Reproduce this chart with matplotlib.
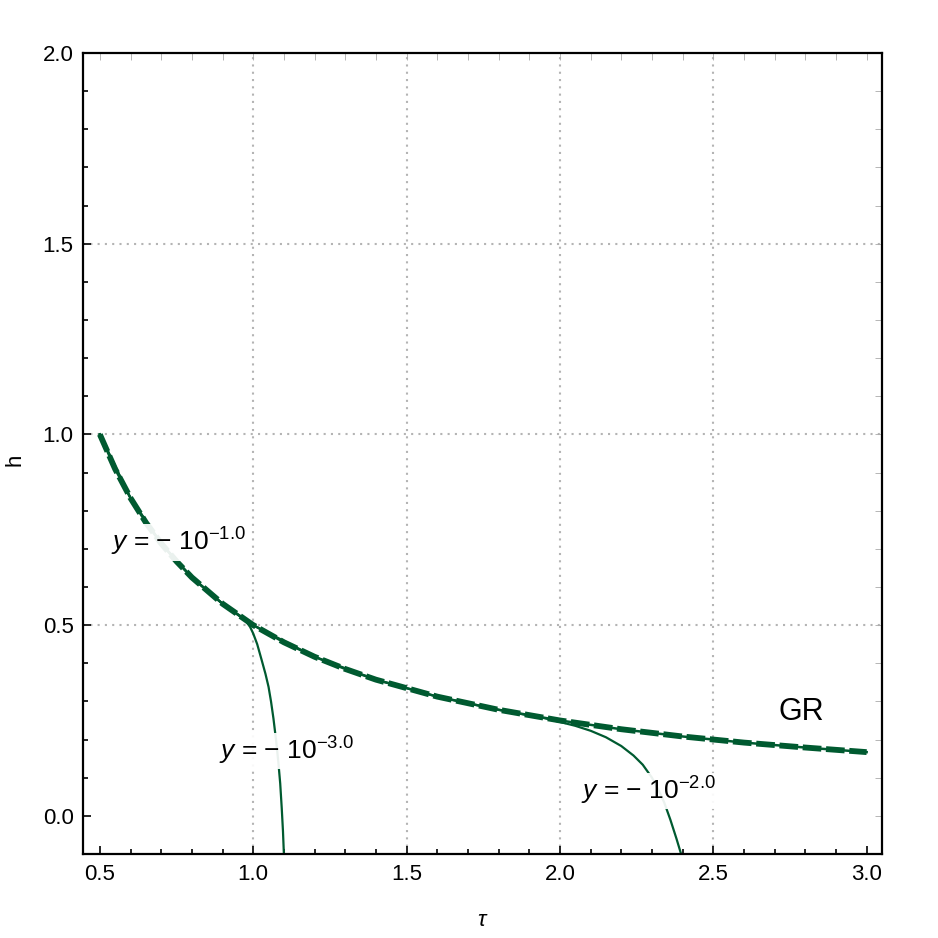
import numpy as np
import matplotlib
matplotlib.use("Agg")
import matplotlib.pyplot as plt

plt.rcParams['font.family'] = ['Liberation Sans', 'DejaVu Sans']
plt.rcParams['mathtext.fontset'] = 'custom'
plt.rcParams['mathtext.rm'] = 'Liberation Sans'
plt.rcParams['mathtext.it'] = 'Liberation Sans:italic'

# GR reference curve
tau_gr = [0.5, 0.55, 0.6, 0.65, 0.7, 0.75, 0.8, 0.9, 1.0, 1.1, 1.2, 1.3, 1.4, 1.6, 1.8, 2.0, 2.2, 2.4, 2.6, 2.8, 3.0]
h_gr = [1.0, 0.909, 0.833, 0.769, 0.714, 0.667, 0.625, 0.556, 0.5, 0.455, 0.417, 0.385, 0.357, 0.3125, 0.278,
        0.25, 0.227, 0.208, 0.192, 0.179, 0.167]

# y = -10^-1 : lies on top of GR over the whole range
tau_m1 = list(tau_gr)
h_m1 = list(h_gr)

# y = -10^-2
tau_m2 = [0.5, 0.6, 0.7, 0.8, 0.9, 1.0, 1.2, 1.4, 1.6, 1.8, 1.9, 1.95, 2.0, 2.05, 2.1, 2.15, 2.2,
          2.24, 2.27, 2.3, 2.32, 2.34, 2.36, 2.38, 2.395]
h_m2 = [1.0, 0.833, 0.714, 0.625, 0.556, 0.5, 0.417, 0.357, 0.3125, 0.278, 0.263, 0.256, 0.246, 0.236, 0.223,
        0.206, 0.183, 0.158, 0.134, 0.10, 0.07, 0.035, -0.01, -0.06, -0.1]

# y = -10^-3
tau_m3 = [0.5, 0.6, 0.7, 0.8, 0.9, 0.96, 0.975, 0.99, 1.0, 1.013, 1.027, 1.04, 1.05, 1.058, 1.066,
          1.075, 1.082, 1.088, 1.093, 1.097, 1.1]
h_m3 = [1.0, 0.833, 0.714, 0.625, 0.556, 0.521, 0.512, 0.495, 0.478, 0.450, 0.410, 0.372, 0.338, 0.300, 0.255,
        0.195, 0.14, 0.085, 0.02, -0.04, -0.1]

labels = [r"$y$ = − 10$^{−1.0}$", r"$y$ = − 10$^{−3.0}$", r"$y$ = − 10$^{−2.0}$"]
label_pos = [(0.535, 0.717), (0.89, 0.17), (2.07, 0.065)]

grid_x = [1.0, 1.5, 2.0, 2.5]
grid_y = [0.5, 1.0, 1.5]

col = '#005a30'

fig = plt.figure(figsize=(9.38, 9.38), dpi=100)
ax = fig.add_axes([0.0888, 0.0896, 0.8518, 0.8539])

for gx in grid_x:
    ax.axvline(gx, color='#b4b4b4', lw=1.5, ls=(0, (1, 2.5)), zorder=0)
for gy in grid_y:
    ax.axhline(gy, color='#b4b4b4', lw=1.5, ls=(0, (1, 2.5)), zorder=0)

ax.plot(tau_m1, h_m1, color=col, lw=1.8, zorder=2)
ax.plot(tau_m2, h_m2, color=col, lw=1.6, zorder=2)
ax.plot(tau_m3, h_m3, color=col, lw=1.6, zorder=2)
ax.plot(tau_gr, h_gr, color=col, lw=4.2, dashes=(3.2, 0.8), zorder=3)

for txt, (x, y) in zip(labels, label_pos):
    ax.text(x, y, txt, fontsize=19, ha='left', va='center', zorder=4,
            bbox=dict(facecolor='white', edgecolor='none', alpha=0.92, pad=1.5))
ax.text(2.711, 0.273, "GR", fontsize=22, ha='left', va='center', zorder=4)

ax.set_xlim(0.446, 3.051)
ax.set_ylim(-0.098, 2.0)
ax.set_xticks([0.5, 1.0, 1.5, 2.0, 2.5, 3.0])
ax.set_yticks([0.0, 0.5, 1.0, 1.5, 2.0])
ax.set_xticks(np.arange(0.5, 3.05, 0.1), minor=True)
ax.set_yticks(np.arange(-0.1, 2.0, 0.1), minor=True)
ax.xaxis.set_major_formatter(matplotlib.ticker.FormatStrFormatter('%.1f'))
ax.yaxis.set_major_formatter(matplotlib.ticker.FormatStrFormatter('%.1f'))
ax.tick_params(which='both', direction='in', top=False, right=False, labelsize=16, width=1.2, color='black')
ax.tick_params(which='major', length=6, pad=7)
ax.tick_params(which='minor', length=3.5)
for s in ax.spines.values():
    s.set_linewidth(1.6)

# light ticks on the top and right frame
secx = ax.secondary_xaxis('top')
secx.set_xticks([0.5, 1.0, 1.5, 2.0, 2.5, 3.0])
secx.set_xticks(np.arange(0.5, 3.05, 0.1), minor=True)
secx.tick_params(which='both', direction='in', length=5, width=0.6, color='#aaaaaa', labeltop=False)
secx.spines['top'].set_visible(False)
secy = ax.secondary_yaxis('right')
secy.set_yticks([0.0, 0.5, 1.0, 1.5, 2.0])
secy.set_yticks(np.arange(-0.1, 2.0, 0.1), minor=True)
secy.tick_params(which='both', direction='in', length=5, width=0.6, color='#aaaaaa', labelright=False)
secy.spines['right'].set_visible(False)

fig.text(0.515, 0.019, r"$\tau$", fontsize=16, ha='center', va='center')
fig.text(0.016, 0.51, "h", fontsize=16, ha='center', va='center', rotation=90)

fig.savefig("out.png", dpi=100)
